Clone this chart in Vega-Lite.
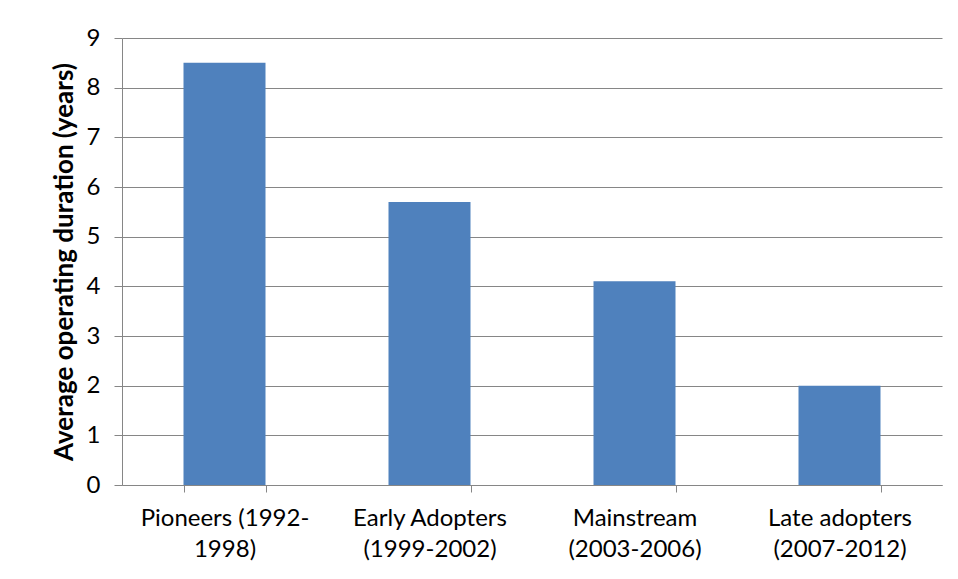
{
  "$schema": "https://vega.github.io/schema/vega-lite/v6.json",
  "width": 820,
  "height": 447,
  "autosize": {"type": "none"},
  "padding": {"left": 122, "top": 38, "right": 16, "bottom": 94},
  "background": "white",
  "data": {"values": [
    {"group": "Pioneers (1992-|1998)", "years": 8.5},
    {"group": "Early Adopters|(1999-2002)", "years": 5.7},
    {"group": "Mainstream|(2003-2006)", "years": 4.1},
    {"group": "Late adopters|(2007-2012)", "years": 2.0}
  ]},
  "mark": {"type": "bar", "color": "#4F81BD"},
  "encoding": {
    "x": {
      "field": "group", "type": "nominal", "sort": null,
      "scale": {"paddingInner": 0.6, "paddingOuter": 0.3},
      "axis": {
        "title": null, "labelAngle": 0, "tickBand": "extent",
        "labelExpr": "split(datum.label, '|')",
        "labelFont": "Lato", "labelFontSize": 24, "labelColor": "#000000",
        "labelLineHeight": 31, "labelPadding": 14, "labelLimit": 300,
        "domainColor": "#868686", "tickColor": "#868686", "tickSize": 7,
        "grid": false
      }
    },
    "y": {
      "field": "years", "type": "quantitative",
      "scale": {"domain": [0, 9], "nice": false},
      "axis": {
        "title": "Average operating duration (years)",
        "titleFont": "Lato", "titleFontSize": 26, "titleFontWeight": "bold", "titleColor": "#000000",
        "titlePadding": 9,
        "values": [0, 1, 2, 3, 4, 5, 6, 7, 8, 9],
        "labelFont": "Lato", "labelFontSize": 24, "labelColor": "#000000", "labelPadding": 14,
        "domainColor": "#868686", "tickColor": "#868686", "tickSize": 8,
        "gridColor": "#868686", "gridWidth": 1
      }
    }
  },
  "config": {"view": {"stroke": null}}
}
